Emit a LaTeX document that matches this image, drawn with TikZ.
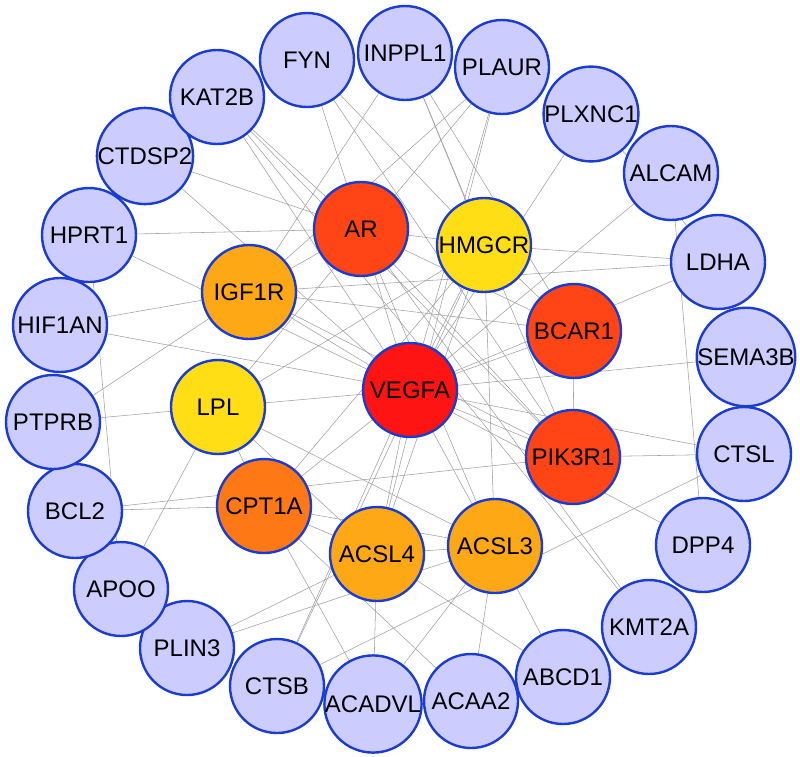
\documentclass[tikz,border=0pt]{standalone}
\usepackage{fontspec}
\setmainfont{Liberation Sans}
\usetikzlibrary{backgrounds}
\definecolor{lav}{HTML}{CCCCFF}
\definecolor{rim}{HTML}{1A3CD0}
\definecolor{topred}{HTML}{FF1414}
\definecolor{redor}{HTML}{FF4516}
\definecolor{darkor}{HTML}{FF7816}
\definecolor{midor}{HTML}{FFA816}
\definecolor{gold}{HTML}{FFDE16}
\definecolor{wire}{HTML}{A0A0A0}
\tikzset{gene/.style={circle,draw=rim,line width=2.4pt,fill=lav,minimum size=94pt,inner sep=0pt,font=\fontsize{24}{24}\selectfont}, hub/.style={gene,fill=topred}, hot/.style={gene,fill=redor}, warm/.style={gene,fill=darkor}, mild/.style={gene,fill=midor}, cool/.style={gene,fill=gold}, link/.style={draw=wire,line width=0.55pt}}
\begin{document}
\begin{tikzpicture}[x=1pt,y=-1pt]
\useasboundingbox (0,0) rectangle (800,756);
% outer ring
\node[gene] (fyn) at (307,60) {FYN};
\node[gene] (inppl1) at (405,53) {INPPL1};
\node[gene] (plaur) at (502,67) {PLAUR};
\node[gene] (plxnc1) at (591,114) {PLXNC1};
\node[gene] (alcam) at (671,173) {ALCAM};
\node[gene] (ldha) at (718,262) {LDHA};
\node[gene] (sema3b) at (746,357) {SEMA3B};
\node[gene] (ctsl) at (744,454) {CTSL};
\node[gene] (dpp4) at (703,545) {DPP4};
\node[gene] (kmt2a) at (649,627) {KMT2A};
\node[gene] (abcd1) at (563,677) {ABCD1};
\node[gene] (acaa2) at (471,701) {ACAA2};
\node[gene] (acadvl) at (373,704) {ACADVL};
\node[gene] (ctsb) at (277,686) {CTSB};
\node[gene] (plin3) at (187,648) {PLIN3};
\node[gene] (apoo) at (121,589) {APOO};
\node[gene] (bcl2) at (75,511) {BCL2};
\node[gene] (ptprb) at (53,422) {PTPRB};
\node[gene] (hif1an) at (60,325) {HIF1AN};
\node[gene] (hprt1) at (89,235) {HPRT1};
\node[gene] (ctdsp2) at (145,156) {CTDSP2};
\node[gene] (kat2b) at (217,97) {KAT2B};
% inner hubs
\node[hot] (ar) at (361,229) {AR};
\node[cool] (hmgcr) at (484,245) {HMGCR};
\node[mild] (igf1r) at (249,292) {IGF1R};
\node[hot] (bcar1) at (574,331) {BCAR1};
\node[hub] (vegfa) at (410,390) {VEGFA};
\node[cool] (lpl) at (218,407) {LPL};
\node[hot] (pik3r1) at (573,457) {PIK3R1};
\node[warm] (cpt1a) at (264,506) {CPT1A};
\node[mild] (acsl4) at (377,554) {ACSL4};
\node[mild] (acsl3) at (495,546) {ACSL3};
\begin{scope}[on background layer]
\draw[link] (fyn)--(ar);\draw[link] (fyn)--(pik3r1);\draw[link] (fyn)--(hmgcr);
\draw[link] (inppl1)--(igf1r);\draw[link] (inppl1)--(hmgcr);\draw[link] (inppl1)--(pik3r1);\draw[link] (inppl1)--(bcar1);
\draw[link] (plaur)--(igf1r);\draw[link] (plaur)--(lpl);\draw[link] (plaur)--(vegfa);\draw[link] (plaur)--(acsl4);
\draw[link] (plxnc1)--(vegfa);\draw[link] (plxnc1)--(ldha);
\draw[link] (alcam)--(vegfa);\draw[link] (alcam)--(dpp4);
\draw[link] (ldha)--(hmgcr);\draw[link] (ldha)--(igf1r);\draw[link] (ldha)--(vegfa);
\draw[link] (sema3b)--(vegfa);
\draw[link] (ctsl)--(vegfa);\draw[link] (ctsl)--(pik3r1);\draw[link] (ctsl)--(ctsb);
\draw[link] (dpp4)--(vegfa);
\draw[link] (kmt2a)--(ar);\draw[link] (kmt2a)--(kat2b);
\draw[link] (abcd1)--(acsl4);\draw[link] (abcd1)--(acsl3);
\draw[link] (acaa2)--(acsl3);\draw[link] (acaa2)--(cpt1a);
\draw[link] (acadvl)--(acsl4);\draw[link] (acadvl)--(cpt1a);\draw[link] (acadvl)--(acsl3);
\draw[link] (ctsb)--(vegfa);\draw[link] (ctsb)--(hmgcr);
\draw[link] (plin3)--(acsl4);\draw[link] (plin3)--(acsl3);
\draw[link] (apoo)--(plin3);\draw[link] (apoo)--(lpl);
\draw[link] (bcl2)--(cpt1a);\draw[link] (bcl2)--(pik3r1);
\draw[link] (ptprb)--(lpl);\draw[link] (ptprb)--(igf1r);
\draw[link] (hif1an)--(igf1r);\draw[link] (hif1an)--(vegfa);
\draw[link] (hprt1)--(apoo);\draw[link] (hprt1)--(ar);\draw[link] (hprt1)--(vegfa);
\draw[link] (ctdsp2)--(ar);\draw[link] (ctdsp2)--(vegfa);
\draw[link] (kat2b)--(ar);\draw[link] (kat2b)--(vegfa);\draw[link] (kat2b)--(pik3r1);
% hub to hub
\draw[link] (ar)--(vegfa);\draw[link] (ar)--(hmgcr);\draw[link] (ar)--(pik3r1);\draw[link] (ar)--(bcar1);\draw[link] (ar)--(acsl3);\draw[link] (ar)--(igf1r);
\draw[link] (hmgcr)--(vegfa);\draw[link] (hmgcr)--(acsl3);\draw[link] (hmgcr)--(acsl4);\draw[link] (hmgcr)--(cpt1a);\draw[link] (hmgcr)--(lpl);\draw[link] (hmgcr)--(bcar1);
\draw[link] (igf1r)--(vegfa);\draw[link] (igf1r)--(pik3r1);\draw[link] (igf1r)--(bcar1);
\draw[link] (bcar1)--(vegfa);\draw[link] (bcar1)--(pik3r1);\draw[link] (pik3r1)--(vegfa);
\draw[link] (lpl)--(vegfa);\draw[link] (lpl)--(cpt1a);\draw[link] (lpl)--(acsl3);\draw[link] (lpl)--(acsl4);
\draw[link] (cpt1a)--(acsl4);\draw[link] (cpt1a)--(acsl3);\draw[link] (cpt1a)--(vegfa);
\draw[link] (acsl4)--(acsl3);\draw[link] (acsl4)--(vegfa);\draw[link] (acsl3)--(vegfa);
\end{scope}
\end{tikzpicture}
\end{document}
